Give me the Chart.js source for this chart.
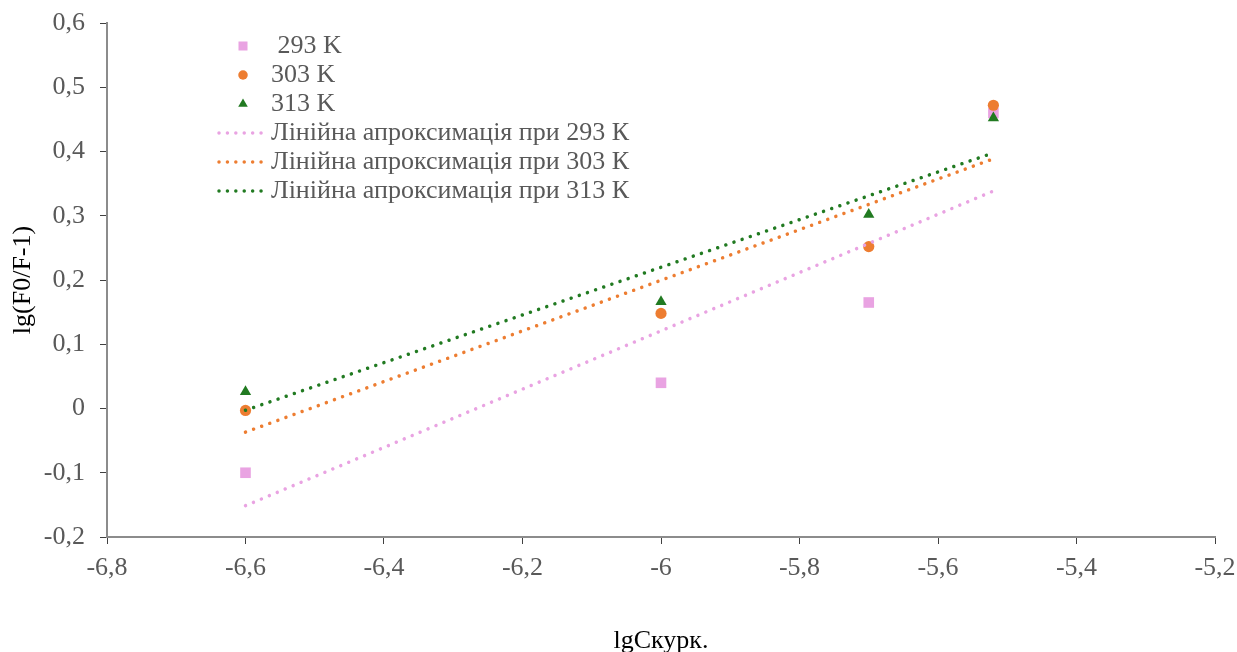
<!DOCTYPE html>
<html><head><meta charset="utf-8">
<script src="https://cdn.jsdelivr.net/npm/chart.js@4.4.0/dist/chart.umd.min.js"></script>
<style>html,body{margin:0;padding:0;background:#fff}#wrap{width:1237px;height:652px;position:relative}</style>
</head><body><div id="wrap"><canvas id="c" width="1237" height="652"></canvas></div>
<script>
// ---- data ----
const xValues = [-6.6, -6.0, -5.7, -5.52];
const y293 = [-0.100, 0.040, 0.165, 0.460];
const y303 = [-0.003, 0.148, 0.252, 0.472];
const y313 = [0.026, 0.166, 0.302, 0.452];
const seriesLabels = [' 293 K', '303 K', '313 K'];
const trendLabels = ['Лінійна апроксимація при 293 К', 'Лінійна апроксимація при 303 К', 'Лінійна апроксимація при 313 К'];
const xTickLabels = ['-6,8', '-6,6', '-6,4', '-6,2', '-6', '-5,8', '-5,6', '-5,4', '-5,2'];
const yTickLabels = ['-0,2', '-0,1', '0', '0,1', '0,2', '0,3', '0,4', '0,5', '0,6'];
const xTitle = 'lgСкурк.';
const yTitle = 'lg(F0/F-1)';

// ---- styles ----
const colors = ['#E9A3E2', '#ED7D31', '#217A21'];
const pointStyles = ['rect', 'circle', 'triangle'];
const pointRadii = [7.5, 5.6, 6.5];
const textColor = '#595959';
const FONT = '"Liberation Serif", "Times New Roman", serif';
const FSIZE = 26;

function linFit(xs, ys) {
  const n = xs.length;
  const mx = xs.reduce((a, b) => a + b, 0) / n;
  const my = ys.reduce((a, b) => a + b, 0) / n;
  let sxy = 0, sxx = 0;
  for (let i = 0; i < n; i++) { sxy += (xs[i] - mx) * (ys[i] - my); sxx += (xs[i] - mx) ** 2; }
  const k = sxy / sxx, b = my - k * mx;
  const x0 = Math.min(...xs), x1 = Math.max(...xs);
  return [{x: x0, y: k * x0 + b}, {x: x1, y: k * x1 + b}];
}

const seriesY = [y293, y303, y313];
const datasets = [];
seriesY.forEach((ys, i) => {
  datasets.push({
    type: 'line', label: trendLabels[i], data: linFit(xValues, ys),
    borderColor: colors[i], borderWidth: 3.5, borderDash: [0.01, 8.6], borderCapStyle: 'round',
    pointRadius: 0, fill: false, order: 0
  });
});
seriesY.forEach((ys, i) => {
  datasets.push({
    type: 'scatter', label: seriesLabels[i], data: xValues.map((x, j) => ({x, y: ys[j]})),
    backgroundColor: colors[i], borderColor: colors[i], borderWidth: 0,
    pointStyle: pointStyles[i], pointRadius: pointRadii[i], order: 3 - i
  });
});

const legendPlugin = {
  id: 'customLegend',
  afterDraw(chart) {
    const ctx = chart.ctx;
    ctx.save();
    ctx.font = FSIZE + 'px ' + FONT;
    ctx.textBaseline = 'middle';
    const entries = [];
    seriesLabels.forEach((l, i) => entries.push({kind: 'marker', i, label: l}));
    trendLabels.forEach((l, i) => entries.push({kind: 'line', i, label: l}));
    entries.forEach((e, r) => {
      const y = 46 + r * 29;
      if (e.kind === 'marker') {
        ctx.fillStyle = colors[e.i];
        Chart.helpers.drawPoint(ctx, {pointStyle: pointStyles[e.i], radius: pointRadii[e.i] * 0.85, rotation: 0, borderWidth: 0}, 243, y);
      } else {
        ctx.save();
        ctx.strokeStyle = colors[e.i];
        ctx.lineWidth = 3.5; ctx.lineCap = 'round';
        ctx.setLineDash([0.01, 8.4]);
        ctx.beginPath(); ctx.moveTo(219, y); ctx.lineTo(268, y); ctx.stroke();
        ctx.restore();
      }
      ctx.fillStyle = textColor;
      ctx.fillText(e.label, 271, y);
    });
    ctx.restore();
  }
};

Chart.defaults.font.family = FONT;
Chart.defaults.font.size = FSIZE;
Chart.defaults.color = textColor;

new Chart(document.getElementById('c'), {
  data: {datasets},
  plugins: [legendPlugin],
  options: {
    responsive: false, animation: false,
    layout: {padding: {left: 0, top: 23, right: 22, bottom: 0}},
    plugins: {legend: {display: false}, tooltip: {enabled: false}},
    scales: {
      x: {
        type: 'linear', min: -6.8, max: -5.2,
        ticks: {stepSize: 0.2, padding: 9, color: textColor, callback: (v, i) => xTickLabels[i]},
        grid: {drawOnChartArea: false, drawTicks: true, tickLength: 7, tickColor: '#404040', tickWidth: 1},
        border: {color: '#8c8c8c', width: 2},
        title: {display: true, text: xTitle, color: '#000', font: {size: FSIZE, lineHeight: 0.85}, padding: {top: 0, bottom: 0}},
        afterFit: s => { s.height = 115; s.paddingLeft = 0; s.paddingRight = 0; }
      },
      y: {
        type: 'linear', min: -0.2, max: 0.6,
        ticks: {stepSize: 0.1, padding: 15, color: textColor, callback: (v, i) => yTickLabels[i]},
        grid: {drawOnChartArea: false, drawTicks: true, tickLength: 7, tickColor: '#404040', tickWidth: 1},
        border: {color: '#8c8c8c', width: 2},
        title: {display: true, text: yTitle, color: '#000', font: {size: FSIZE, lineHeight: 1}, padding: {top: 10, bottom: 0}},
        afterFit: s => { s.width = 107; s.paddingTop = 0; s.paddingBottom = 0; }
      }
    }
  }
});
</script></body></html>
